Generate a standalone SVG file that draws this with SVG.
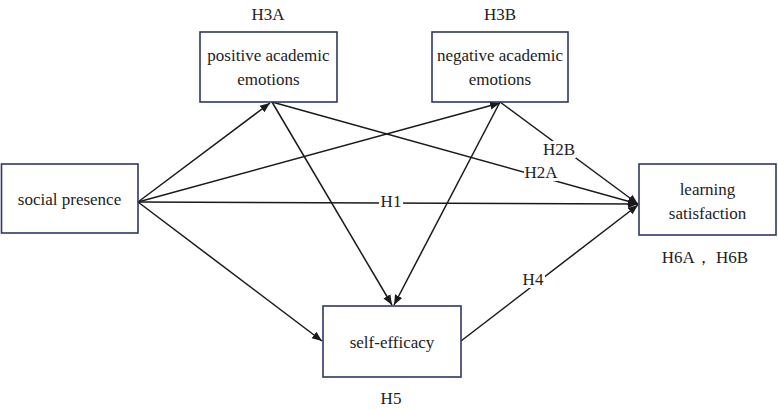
<svg xmlns="http://www.w3.org/2000/svg" width="778" height="409" viewBox="0 0 778 409">
<defs>
<marker id="arr" viewBox="0 0 10 10" refX="10" refY="5" markerWidth="10" markerHeight="10" markerUnits="userSpaceOnUse" orient="auto">
<path d="M0,1 L10,5 L0,9 z" fill="#1a1a1a"/>
</marker>
<style>
.box{fill:#fff;stroke:#2e3766;stroke-width:1.6}
.t{font-size:17px;fill:#222;text-anchor:middle;dominant-baseline:central}
.c{stroke:#1a1a1a;stroke-width:1.5;fill:none;marker-end:url(#arr)}
.bg{fill:#fff}
</style>
</defs>
<rect width="778" height="409" fill="#fff"/>
<g font-family="'Liberation Serif', 'Times New Roman', 'DejaVu Serif', serif">
<g id="connectors">
<line class="c" x1="138" y1="202" x2="270" y2="103"/>
<line class="c" x1="138" y1="202" x2="500" y2="103"/>
<line class="c" x1="138" y1="202" x2="638" y2="204"/>
<line class="c" x1="138" y1="202" x2="322" y2="341"/>
<line class="c" x1="272" y1="102" x2="392" y2="305"/>
<line class="c" x1="500" y1="102" x2="394" y2="305"/>
<line class="c" x1="272" y1="102" x2="638" y2="204"/>
<line class="c" x1="500" y1="102" x2="638" y2="204"/>
<line class="c" x1="461" y1="341" x2="638" y2="205"/>
<rect class="bg" x="379" y="193" width="24" height="17"/>
<text class="t" x="391" y="201">H1</text>
<rect class="bg" x="524" y="164" width="34" height="17"/>
<text class="t" x="541" y="172">H2A</text>
<rect class="bg" x="542" y="141" width="34" height="17"/>
<text class="t" x="559" y="149">H2B</text>
<rect class="bg" x="521" y="271" width="24" height="17"/>
<text class="t" x="533" y="279">H4</text>
</g>
<g id="positive">
<rect class="box" x="200" y="32" width="137" height="70"/>
<text class="t" x="268.5" y="55">positive academic</text>
<text class="t" x="268.5" y="79">emotions</text>
</g>
<g id="negative">
<rect class="box" x="432" y="32" width="136" height="70"/>
<text class="t" x="500" y="55">negative academic</text>
<text class="t" x="500" y="79">emotions</text>
</g>
<g id="social">
<rect class="box" x="1.5" y="164" width="136.5" height="69"/>
<text class="t" x="69.5" y="199">social presence</text>
</g>
<g id="learning">
<rect class="box" x="639" y="164" width="137" height="71"/>
<text class="t" x="707.5" y="189">learning</text>
<text class="t" x="707.5" y="213">satisfaction</text>
</g>
<g id="selfefficacy">
<rect class="box" x="323" y="306" width="138" height="71"/>
<text class="t" x="392" y="342">self-efficacy</text>
</g>
<g id="labels">
<text class="t" x="268" y="14">H3A</text>
<text class="t" x="500" y="14">H3B</text>
<text class="t" x="705" y="257">H6A， H6B</text>
<text class="t" x="391" y="398">H5</text>
</g>
</g>
</svg>
